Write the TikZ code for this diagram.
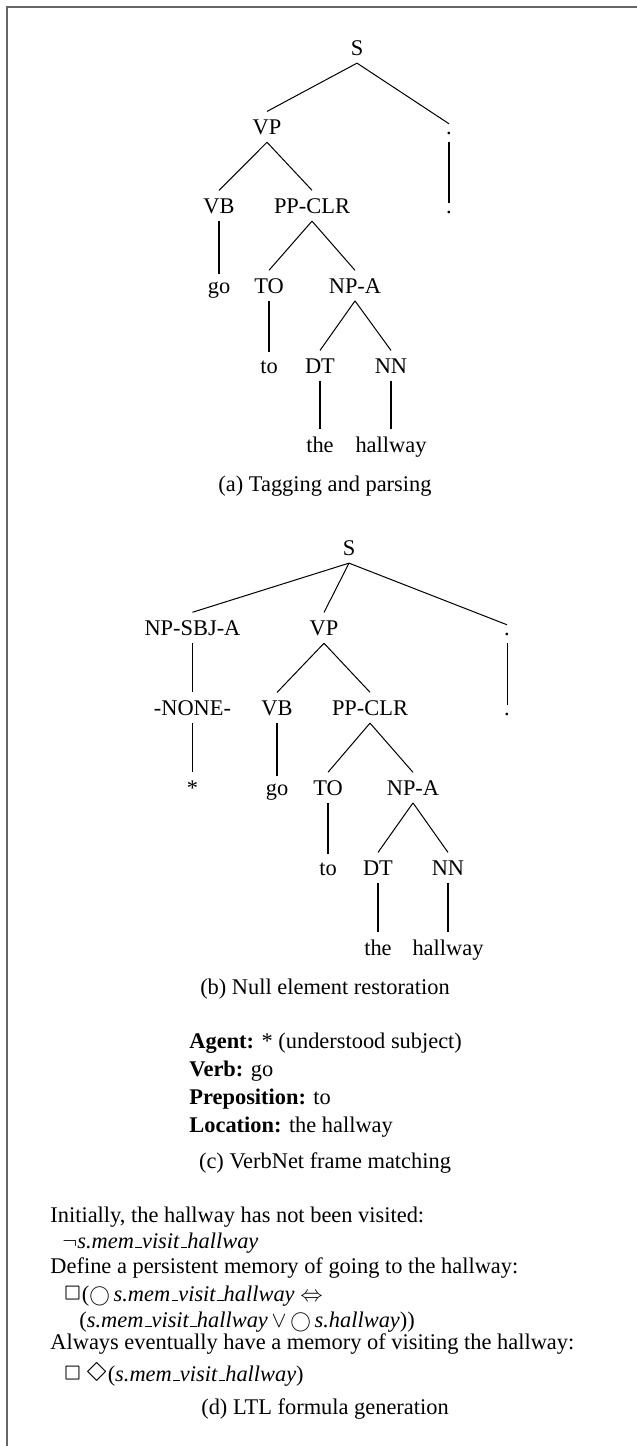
\documentclass[tikz,border=0pt]{standalone}
\usepackage{latexsym}
\usepackage{graphicx}
\usepackage{fontspec}
\setmainfont{Liberation Serif}
% low rule used as the underscore inside identifiers
\newcommand{\usc}{\leavevmode\kern.06em\vbox{\hrule width.3em}}
\newcommand{\mem}{\textit{s.mem\usc visit\usc hallway}}
% temporal operators at text size
\newcommand{\alw}{\smash{\scalebox{1.1}{$\Box$}}}
\newcommand{\evt}{\smash{\scalebox{1.25}{$\Diamond$}}}
\newcommand{\nxt}{\smash{\scalebox{0.92}{$\bigcirc$}}}
\begin{document}
\begin{tikzpicture}[x=0.4464pt,y=-0.4464pt,
  lab/.style={anchor=base, inner sep=3.33pt, font=\fontsize{10}{12}\selectfont},
  txt/.style={anchor=base west, inner sep=0pt, font=\fontsize{10}{12}\selectfont},
  captxt/.style={anchor=base, inner sep=0pt, font=\fontsize{10}{12}\selectfont},
  treeline/.style={line width=0.45pt, black},
  framerule/.style={line width=0.8pt, black!60}]
\useasboundingbox (0,0) rectangle (637,1446);

% open frame: top and left rules
\coordinate (fTR) at (637,7);
\coordinate (fTL) at (7,7);
\coordinate (fBL) at (7,1446);
\draw[framerule] (fTR) -- (fTL) -- (fBL);

% ---------- (a) tagging and parsing ----------
\node[lab] (aS)   at (357,55)  {S};
\node[lab] (aVP)  at (267,134) {VP};
\node[lab] (aP1)  at (449,134) {.};
\node[lab] (aVB)  at (219,213) {VB};
\node[lab] (aPP)  at (312,213) {PP-CLR};
\node[lab] (aP2)  at (449,213) {.};
\node[lab] (ago)  at (219,293) {go};
\node[lab] (aTO)  at (269,293) {TO};
\node[lab] (aNP)  at (355,293) {NP-A};
\node[lab] (ato)  at (269,373) {to};
\node[lab] (aDT)  at (320,373) {DT};
\node[lab] (aNN)  at (391,373) {NN};
\node[lab] (athe) at (320,452) {the};
\node[lab] (ahw)  at (391,452) {hallway};
\draw[treeline] (aS.south) -- (aVP.north);
\draw[treeline] (aS.south) -- (aP1.north);
\draw[treeline] (aP1.south) -- (aP2.north);
\draw[treeline] (aVP.south) -- (aVB.north);
\draw[treeline] (aVP.south) -- (aPP.north);
\draw[treeline] (aVB.south) -- (ago.north);
\draw[treeline] (aPP.south) -- (aTO.north);
\draw[treeline] (aPP.south) -- (aNP.north);
\draw[treeline] (aTO.south) -- (ato.north);
\draw[treeline] (aNP.south) -- (aDT.north);
\draw[treeline] (aNP.south) -- (aNN.north);
\draw[treeline] (aDT.south) -- (athe.north);
\draw[treeline] (aNN.south) -- (ahw.north);
\node[captxt] (capa) at (325,491) {(a) Tagging and parsing};

% ---------- (b) null element restoration ----------
\node[lab] (bS)    at (349,555) {S};
\node[lab] (bSBJ)  at (192.5,635) {NP-SBJ-A};
\node[lab] (bVP)   at (324,635) {VP};
\node[lab] (bP1)   at (507,635) {.};
\node[lab] (bNONE) at (192.5,715) {-NONE-};
\node[lab] (bVB)   at (277,715) {VB};
\node[lab] (bPP)   at (370,715) {PP-CLR};
\node[lab] (bP2)   at (507,715) {.};
\node[lab] (bstar) at (192.5,795) {*};
\node[lab] (bgo)   at (277,795) {go};
\node[lab] (bTO)   at (328,795) {TO};
\node[lab] (bNP)   at (413,795) {NP-A};
\node[lab] (bto)   at (328,875) {to};
\node[lab] (bDT)   at (378,875) {DT};
\node[lab] (bNN)   at (448,875) {NN};
\node[lab] (bthe)  at (378,955) {the};
\node[lab] (bhw)   at (448,955) {hallway};
\draw[treeline] (bS.south) -- (bSBJ.north);
\draw[treeline] (bS.south) -- (bVP.north);
\draw[treeline] (bS.south) -- (bP1.north);
\draw[treeline] (bP1.south) -- (bP2.north);
\draw[treeline] (bSBJ.south) -- (bNONE.north);
\draw[treeline] (bNONE.south) -- (bstar.north);
\draw[treeline] (bVP.south) -- (bVB.north);
\draw[treeline] (bVP.south) -- (bPP.north);
\draw[treeline] (bVB.south) -- (bgo.north);
\draw[treeline] (bPP.south) -- (bTO.north);
\draw[treeline] (bPP.south) -- (bNP.north);
\draw[treeline] (bTO.south) -- (bto.north);
\draw[treeline] (bNP.south) -- (bDT.north);
\draw[treeline] (bNP.south) -- (bNN.north);
\draw[treeline] (bDT.south) -- (bthe.north);
\draw[treeline] (bNN.south) -- (bhw.north);
\node[captxt] (capb) at (325,994) {(b) Null element restoration};

% ---------- (c) VerbNet frame ----------
\node[txt] (cAg)  at (189,1048) {\textbf{Agent:} * (understood subject)};
\node[txt] (cVb)  at (189,1076) {\textbf{Verb:} go};
\node[txt] (cPr)  at (189,1104) {\textbf{Preposition:} to};
\node[txt] (cLo)  at (189,1132) {\textbf{Location:} the hallway};
\node[captxt] (capc) at (325,1168) {(c) VerbNet frame matching};

% ---------- (d) LTL formulas ----------
\node[txt] (d1) at (50,1222) {Initially, the hallway has not been visited:};
\node[txt] (d2) at (62,1248) {$\neg$\mem};
\node[txt] (d3) at (50,1273) {Define a persistent memory of going to the hallway:};
\node[txt] (d4) at (63,1301) {\alw(\nxt\,\mem\ $\Leftrightarrow$};
\node[txt] (d5) at (79,1327) {(\mem\,$\vee$\,\nxt\,\textit{s.hallway}))};
\node[txt] (d6) at (50,1349) {Always eventually have a memory of visiting the hallway:};
\node[txt] (d7) at (63,1381) {\alw\,\evt(\mem)};
\node[captxt] (capd) at (325,1414) {(d) LTL formula generation};
\end{tikzpicture}
\end{document}
